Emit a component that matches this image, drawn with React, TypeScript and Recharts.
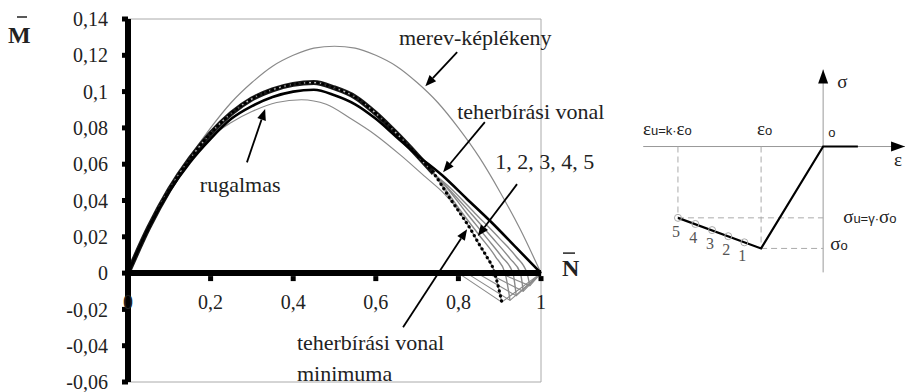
import { LineChart, Line, XAxis, YAxis, ReferenceLine, ReferenceDot, ReferenceArea } from "recharts";

// ---------- M–N interaction diagram ----------
const nTicks = [0.2, 0.4, 0.6, 0.8, 1];
const nTickLabels = ["0", "0,2", "0,4", "0,6", "0,8", "1"];
const mTicks = [-0.06, -0.04, -0.02, 0, 0.02, 0.04, 0.06, 0.08, 0.1, 0.12, 0.14];

// merev-képlékeny
const rigidN = [0, 0.05, 0.1, 0.15, 0.2, 0.25, 0.3, 0.35, 0.4, 0.45, 0.5, 0.55, 0.6, 0.65, 0.7, 0.75, 0.8, 0.85, 0.9, 0.95, 1];
const rigidM = [0, 0.024, 0.046, 0.064, 0.08, 0.094, 0.105, 0.114, 0.12, 0.124, 0.125, 0.124, 0.12, 0.114, 0.105, 0.094, 0.08, 0.064, 0.045, 0.024, 0];

// rugalmas
const elasticN = [0, 0.05, 0.1, 0.15, 0.2, 0.25, 0.3, 0.36, 0.42, 0.48, 0.54, 0.6, 0.66, 0.72, 0.76, 0.8];
const elasticM = [0, 0.024, 0.045, 0.062, 0.075, 0.083, 0.089, 0.094, 0.0955, 0.093, 0.085, 0.076, 0.065, 0.053, 0.045, 0.035];

// teherbírási vonal
const capN = [0, 0.05, 0.1, 0.15, 0.2, 0.25, 0.3, 0.35, 0.4, 0.45, 0.5, 0.55, 0.6, 0.65, 0.7, 0.76, 0.82, 0.88, 0.94, 1];
const capM = [0, 0.025, 0.045, 0.061, 0.074, 0.085, 0.092, 0.097, 0.1, 0.101, 0.098, 0.093, 0.085, 0.075, 0.065, 0.054, 0.041, 0.028, 0.014, 0];

// common rising part of curves 1..5
const bandN = [0, 0.05, 0.1, 0.15, 0.2, 0.25, 0.3, 0.35, 0.4, 0.45, 0.5, 0.55, 0.6, 0.65, 0.7, 0.74];
const bandM = [0, 0.025, 0.046, 0.063, 0.077, 0.088, 0.096, 0.101, 0.104, 0.105, 0.102, 0.097, 0.088, 0.077, 0.065, 0.055];

// falling tails of curves 1..5
const tailN = [
  [0.78, 0.81, 0.83, 0.85, 0.87, 0.885, 0.895],
  [0.76, 0.8, 0.85, 0.89, 0.913],
  [0.765, 0.82, 0.87, 0.905, 0.932],
  [0.77, 0.83, 0.88, 0.925, 0.95],
  [0.78, 0.84, 0.9, 0.94, 0.966],
];
const tailM = [
  [0.041, 0.031, 0.024, 0.016, 0.0085, 0.002, -0.006],
  [0.049, 0.036, 0.021, 0.009, 0],
  [0.049, 0.033, 0.019, 0.009, 0],
  [0.048, 0.033, 0.02, 0.008, 0],
  [0.047, 0.033, 0.019, 0.009, 0],
];
// minimum points and the lower branches
const minN = [0.905, 0.925, 0.94, 0.957, 0.973];
const minM = [-0.016, -0.015, -0.0125, -0.01, -0.007];
const fanN = [0.8, 0.82, 0.845, 0.87, 0.9];

// ---------- σ–ε diagram ----------
const eps0 = -1;
const sig0 = -1;
const epsU = -2.34;
const sigU = -0.7;
const pathEps = [0.56, 0, eps0, epsU];
const pathSig = [0, 0, sig0, sigU];
const softEps = [-1.27, -1.53, -1.79, -2.06, -2.34];
const softSig = [-0.94, -0.88, -0.82, -0.76, -0.7];
const softLabels = ["1", "2", "3", "4", "5"];
const epsAxis = [-2.9, 1.32];
const sigAxis = [-1.235, 0.755];

const pts = (xs: number[], ys: number[]) => xs.map((n, i) => ({ n, m: ys[i] }));
const rigid = pts(rigidN, rigidM);
const elastic = pts(elasticN, elasticM);
const cap = pts(capN, capM);
const band = pts(bandN, bandM);
const curves = tailN.map((tn, k) => [...band, ...pts(tn, tailM[k]), { n: minN[k], m: minM[k] }]);
const lowers = minN.map((n, k) => [{ n: fanN[k], m: 0 }, { n, m: minM[k] }, { n: 1, m: 0 }]);

const ssPath = pathEps.map((e, i) => ({ e, s: pathSig[i] }));
const ssSoft = softEps.map((e, i) => ({ e, s: softSig[i] }));

const SERIF = "Liberation Serif";
const SANS = "Liberation Sans";
const GRAY = "#8a8a8a";

const comma = (v: number) => String(v).replace(".", ",");

const note = (text: string, size = 22) => (p: any) => (
  <text x={p.cx} y={p.cy} style={{ fontFamily: SERIF, fontSize: size }} fill="#222">
    {text}
  </text>
);

const arrow = (p: any) => {
  const { x1, y1, x2, y2 } = p;
  const a = Math.atan2(y2 - y1, x2 - x1);
  const L = 11;
  const W = 4.5;
  const bx = x2 - L * Math.cos(a);
  const by = y2 - L * Math.sin(a);
  const px = -Math.sin(a) * W;
  const py = Math.cos(a) * W;
  return (
    <g>
      <line x1={x1} y1={y1} x2={bx} y2={by} stroke="#000" strokeWidth={1.8} />
      <polygon points={`${x2},${y2} ${bx + px},${by + py} ${bx - px},${by - py}`} fill="#000" />
    </g>
  );
};

const xTick = (label: string) => (p: any) => (
  <g>
    {label !== "0" && <rect x={p.cx - 2.5} y={p.cy + 3} width={5} height={5} fill="#000" />}
    <text x={p.cx} y={p.cy + 36} textAnchor="middle" style={{ fontFamily: SERIF, fontSize: 20 }} fill="#222">
      {label}
    </text>
  </g>
);

const barLetter = (letter: string, dx: number, dy: number, barX: number, barW: number, barDy: number) => (p: any) => (
  <g>
    <text x={p.cx + dx} y={p.cy + dy} style={{ fontFamily: SERIF, fontSize: 24, fontWeight: "bold" }} fill="#222">
      {letter}
    </text>
    <line x1={p.cx + barX} x2={p.cx + barX + barW} y1={p.cy + barDy} y2={p.cy + barDy} stroke="#222" strokeWidth={1.5} />
  </g>
);

const tri = (dir: "up" | "right") => (p: any) =>
  dir === "up" ? (
    <polygon points={`${p.cx},${p.cy} ${p.cx - 5},${p.cy + 14} ${p.cx + 5},${p.cy + 14}`} fill="#000" />
  ) : (
    <polygon points={`${p.cx},${p.cy} ${p.cx - 14},${p.cy - 5} ${p.cx - 14},${p.cy + 5}`} fill="#000" />
  );

// Greek symbol followed by small sans-serif parts, alternating
const greek = (parts: string[], dx: number, dy: number) => (p: any) => (
  <text x={p.cx + dx} y={p.cy + dy} fill="#222">
    {parts.map((r, i) =>
      i % 2 === 0 ? (
        <tspan key={i} style={{ fontFamily: SERIF, fontSize: 19 }}>{r}</tspan>
      ) : (
        <tspan key={i} style={{ fontFamily: SANS, fontSize: 13 }}>{r}</tspan>
      )
    )}
  </text>
);

const numLabel = (t: string) => (p: any) => (
  <text x={p.cx - 2} y={p.cy + 19} textAnchor="middle" style={{ fontFamily: SERIF, fontSize: 16 }} fill="#555">
    {t}
  </text>
);

export default function App() {
  return (
    <div style={{ position: "absolute", left: 0, top: 0, width: 913, height: 392, background: "#fff" }}>
      <div style={{ position: "absolute", left: 0, top: 0 }}>
        <LineChart width={640} height={392} margin={{ top: 19, right: 99, bottom: 10, left: 0 }}>
          <XAxis type="number" dataKey="n" domain={[0, 1]} hide />
          <YAxis
            type="number"
            domain={[-0.06, 0.14]}
            ticks={mTicks}
            interval={0}
            width={128}
            tickFormatter={comma}
            tick={{ fill: "#222", fontSize: 20, fontFamily: SERIF }}
            tickSize={6}
            tickMargin={14}
            tickLine={{ stroke: "#000", strokeWidth: 5 }}
            axisLine={{ stroke: "#000", strokeWidth: 6 }}
          />
          <ReferenceArea x1={0} x2={1} y1={-0.06} y2={0.14} fill="none" stroke="#aaa" strokeWidth={1} />

          <Line data={rigid} dataKey="m" type="monotone" stroke={GRAY} strokeWidth={1.2} dot={false} isAnimationActive={false} />
          <Line data={elastic} dataKey="m" type="monotone" stroke={GRAY} strokeWidth={1.2} dot={false} isAnimationActive={false} />
          {lowers.map((d, k) => (
            <Line key={`low${k}`} data={d} dataKey="m" type="linear" stroke={GRAY} strokeWidth={1.1} dot={false} isAnimationActive={false} />
          ))}
          {curves.map((d, k) => (
            <Line key={`c${k}`} data={d} dataKey="m" type="monotone" stroke={GRAY} strokeWidth={1.4} dot={false} isAnimationActive={false} />
          ))}
          {/* shared part of curves 1..5 drawn as a dark band */}
          <Line data={band} dataKey="m" type="monotone" stroke="#1a1a1a" strokeWidth={5} dot={false} isAnimationActive={false} />
          <Line data={band} dataKey="m" type="monotone" stroke="#bdbdbd" strokeWidth={1.3} strokeDasharray="3 3" dot={false} isAnimationActive={false} />
          {/* curve 1, dotted */}
          <Line
            data={curves[0]}
            dataKey="m"
            type="monotone"
            stroke="#000"
            strokeWidth={3.2}
            strokeDasharray="0.1 5"
            strokeLinecap="round"
            dot={false}
            isAnimationActive={false}
          />
          <Line data={cap} dataKey="m" type="monotone" stroke="#000" strokeWidth={2.6} dot={false} isAnimationActive={false} />

          <ReferenceLine y={0} stroke="#000" strokeWidth={6} />
          <ReferenceDot x={0} y={0} r={0} shape={xTick(nTickLabels[0])} />
          {nTicks.map((t, i) => (
            <ReferenceDot key={`t${t}`} x={t} y={0} r={0} shape={xTick(nTickLabels[i + 1])} />
          ))}

          <ReferenceDot x={0} y={0.14} r={0} ifOverflow="visible" shape={barLetter("M", -120, 24, -111, 10, -2)} />
          <ReferenceDot x={1} y={0} r={0} ifOverflow="visible" shape={barLetter("N", 21, 3, 22, 12, -20)} />

          <ReferenceLine segment={[{ x: 0.797, y: 0.1218 }, { x: 0.72, y: 0.103 }]} shape={arrow} />
          <ReferenceLine segment={[{ x: 0.864, y: 0.0832 }, { x: 0.763, y: 0.0556 }]} shape={arrow} />
          <ReferenceLine segment={[{ x: 0.942, y: 0.049 }, { x: 0.847, y: 0.0204 }]} shape={arrow} />
          <ReferenceLine segment={[{ x: 0.288, y: 0.061 }, { x: 0.332, y: 0.0904 }]} shape={arrow} />
          <ReferenceLine segment={[{ x: 0.666, y: -0.0298 }, { x: 0.821, y: 0.0242 }]} shape={arrow} />

          <ReferenceDot x={0.656} y={0.1256} r={0} ifOverflow="visible" shape={note("merev-képlékeny")} />
          <ReferenceDot x={0.797} y={0.0848} r={0} ifOverflow="visible" shape={note("teherbírási vonal")} />
          <ReferenceDot x={0.889} y={0.0573} r={0} ifOverflow="visible" shape={note("1, 2, 3, 4, 5")} />
          <ReferenceDot x={0.174} y={0.0446} r={0} ifOverflow="visible" shape={note("rugalmas")} />
          <ReferenceDot x={0.409} y={-0.0424} r={0} ifOverflow="visible" shape={note("teherbírási vonal")} />
          <ReferenceDot x={0.409} y={-0.0595} r={0} ifOverflow="visible" shape={note("minimuma")} />
        </LineChart>
      </div>

      <div style={{ position: "absolute", left: 637, top: 65 }}>
        <LineChart width={276} height={214} margin={{ top: 0, right: 3, bottom: 0, left: 0 }}>
          <XAxis type="number" dataKey="e" domain={[-3, 1.4]} hide />
          <YAxis type="number" domain={[-1.3, 0.8]} hide />

          <ReferenceLine segment={[{ x: epsAxis[0], y: 0 }, { x: epsAxis[1], y: 0 }]} stroke="#999" strokeWidth={1} />
          <ReferenceLine segment={[{ x: 0, y: sigAxis[0] }, { x: 0, y: sigAxis[1] }]} stroke="#999" strokeWidth={1} />
          <ReferenceDot x={epsAxis[1]} y={0} r={0} shape={tri("right")} />
          <ReferenceDot x={0} y={sigAxis[1]} r={0} shape={tri("up")} />

          <ReferenceLine segment={[{ x: eps0, y: 0 }, { x: eps0, y: sig0 }]} stroke="#aaa" strokeDasharray="6 4" />
          <ReferenceLine segment={[{ x: eps0, y: sig0 }, { x: 0, y: sig0 }]} stroke="#aaa" strokeDasharray="6 4" />
          <ReferenceLine segment={[{ x: epsU, y: 0 }, { x: epsU, y: sigU }]} stroke="#aaa" strokeDasharray="6 4" />
          <ReferenceLine segment={[{ x: epsU, y: sigU }, { x: 0, y: sigU }]} stroke="#aaa" strokeDasharray="6 4" />

          <Line data={ssPath} dataKey="s" type="linear" stroke="#000" strokeWidth={2.2} dot={false} isAnimationActive={false} />
          <Line
            data={ssSoft}
            dataKey="s"
            type="linear"
            stroke="none"
            dot={{ r: 3.5, stroke: "#aaa", strokeWidth: 1, fill: "none" }}
            isAnimationActive={false}
          />
          {softEps.map((e, i) => (
            <ReferenceDot key={`n${i}`} x={e} y={softSig[i]} r={0} shape={numLabel(softLabels[i])} />
          ))}

          <ReferenceDot x={epsU} y={0} r={0} shape={greek(["ε", "u=k·", "ε", "o"], -35, -12)} />
          <ReferenceDot x={eps0} y={0} r={0} shape={greek(["ε", "o"], -4, -12)} />
          <ReferenceDot x={0} y={0} r={0} shape={greek(["", "o"], 5, -10)} />
          <ReferenceDot x={0} y={sigAxis[1]} r={0} shape={greek(["σ"], 14, 18)} />
          <ReferenceDot x={epsAxis[1]} y={0} r={0} shape={greek(["ε"], -11, 19)} />
          <ReferenceDot x={0} y={sigU} r={0} ifOverflow="visible" shape={greek(["σ", "u=γ·", "σ", "o"], 20, 5)} />
          <ReferenceDot x={0} y={sig0} r={0} shape={greek(["σ", "o"], 7, 2)} />
        </LineChart>
      </div>
    </div>
  );
}
